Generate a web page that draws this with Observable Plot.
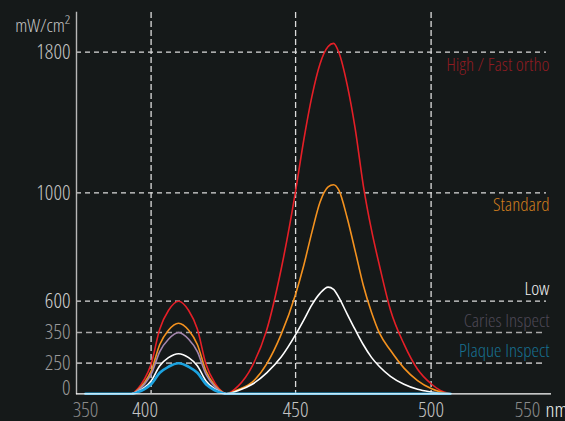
<!DOCTYPE html>
<html><head><meta charset="utf-8">
<script src="https://cdn.jsdelivr.net/npm/d3@7"></script>
<script src="https://cdn.jsdelivr.net/npm/@observablehq/plot@0.6"></script>
<style>
html,body{margin:0;padding:0;background:#151919;}
#chart{width:565px;height:421px;overflow:hidden;}
#chart svg{display:block;font-stretch:75%;font-weight:300;}
</style></head><body><div id="chart"></div>
<script>
// Wavelength grid (nm)
const wavelengths = [350, 385, 390, 395, 400, 403, 406, 409.5, 413, 416, 419, 422, 425, 426,
  430, 435, 440, 445, 450, 453, 456, 459, 462, 464, 466, 469, 472, 475, 478, 481, 485, 490, 495, 500, 505, 510];
// Irradiance (mW/cm²) per mode
const highFast = [0, 0, 43, 121, 242, 378, 526, 600, 526, 378, 242, 91, 11, 0,
  61, 227, 370, 718, 1010, 1299, 1547, 1733, 1832, 1850, 1797, 1617, 1364, 1040, 863, 729, 530, 312, 201, 82, 25, 0];
const standard = [0, 0, 33, 92, 185, 311, 368, 424, 368, 311, 185, 69, 9, 0,
  33, 95, 245, 344, 626, 732, 854, 965, 1034, 1046, 1014, 909, 785, 658, 512, 347, 292, 210, 108, 43, 15, 0];
const low = [0, 0, 19, 52, 105, 229, 268, 281, 268, 229, 105, 39, 5, 0,
  25, 78, 171, 270, 343, 449, 571, 629, 652, 644, 613, 499, 372, 310, 269, 221, 143, 78, 37, 15, 4, 0];
const caries = [0, 0, 28, 79, 158, 288, 328, 350, 328, 288, 158, 59, 7, 0,
  0, 0, 0, 0, 0, 0, 0, 0, 0, 0, 0, 0, 0, 0, 0, 0, 0, 0, 0, 0, 0, 0];
const plaque = [0, 0, 14, 39, 78, 172, 221, 250, 221, 172, 78, 29, 4, 0,
  0, 0, 0, 0, 0, 0, 0, 0, 0, 0, 0, 0, 0, 0, 0, 0, 0, 0, 0, 0, 0, 0];

const seriesNames = ["High / Fast ortho", "Standard", "Low", "Caries Inspect", "Plaque Inspect"];
const seriesLevels = [1800, 1000, 600, 350, 250];
const lineColors = ["#e51f27", "#f4921f", "#ffffff", "#a386ad", "#1ca3e0"];
const labelColors = ["#8d1c22", "#cf7d1e", "#f2f2f2", "#4d4856", "#176f90"];
const yTicks = [0, 250, 350, 600, 1000, 1800];
const xTicks = [350, 400, 450, 500, 550];

const seriesValues = [highFast, standard, low, caries, plaque];
const rows = seriesValues.map((vals, k) => wavelengths.map((w, i) => ({w, v: vals[i], s: seriesNames[k]})));
const labelRows = seriesNames.map((name, i) => ({name, level: seriesLevels[i], color: labelColors[i]}));

const FONT = "'Open Sans', 'Roboto Condensed', sans-serif";
const fmt = d => String(d);
const TICK = 21;

const lineMarks = [0, 1, 3, 2, 4].map(k => Plot.line(rows[k], {
  x: "w", y: "v", stroke: lineColors[k], strokeWidth: k === 4 ? 2.6 : 1.6, curve: "monotone-x"
}));

const chart = Plot.plot({
  width: 565, height: 421,
  marginLeft: 76, marginRight: 14, marginTop: 12, marginBottom: 28,
  style: {background: "#151919", fontFamily: FONT, fontSize: "19px", overflow: "visible"},
  x: {type: "linear", domain: xTicks, range: [85, 150.6, 295.1, 430.6, 527]},
  y: {type: "linear", domain: yTicks, range: [393.3, 362.7, 332, 300.7, 192.3, 51.7]},
  marks: [
    Plot.ruleY([1800, 1000, 600], {stroke: "#dcdcdc", strokeWidth: 1.3, strokeDasharray: "5,4", insetRight: 5}),
    Plot.ruleY([350, 250], {stroke: "#a9a9a9", strokeWidth: 1.7, strokeDasharray: "6,4", insetRight: 5}),
    Plot.ruleX([400, 450, 500], {stroke: "#dcdcdc", strokeWidth: 1.3, strokeDasharray: "6,3"}),
    Plot.frame({anchor: "left", stroke: "#b8b8b8", strokeWidth: 1.4}),
    ...lineMarks,
    Plot.ruleY([0], {stroke: "#ffffff", strokeWidth: 1.3}),
    Plot.axisY(yTicks.filter(t => t > 0), {tickSize: 0, tickPadding: 6, label: null, fontSize: TICK, tickFormat: fmt,
      fill: d => d >= 1000 ? "#c4c4c4" : d === 600 ? "#cfcfcf" : "#9a9a9a"}),
    Plot.axisY([0], {tickSize: 0, tickPadding: 6, label: null, fontSize: TICK, dy: -6, tickFormat: fmt, fill: "#9a9a9a"}),
    Plot.axisX(xTicks.filter(t => t !== 400), {tickSize: 0, tickPadding: 9, label: null, fontSize: TICK, tickFormat: fmt,
      fill: d => (d === 350 || d === 550) ? "#8a8a8a" : "#c4c4c4"}),
    Plot.axisX([400], {tickSize: 0, tickPadding: 9, label: null, fontSize: TICK, dx: -6, tickFormat: fmt, fill: "#c4c4c4"}),
    Plot.text([550], {x: d => d, text: () => "nm", frameAnchor: "bottom", lineAnchor: "top", dy: 9, dx: 18,
      textAnchor: "start", fill: "#f0f0f0", fontSize: TICK}),
    Plot.text(["mW/cm²"], {frameAnchor: "top-left", textAnchor: "end", dx: -6, dy: 6, fill: "#c4c4c4", fontSize: 19}),
    Plot.text(labelRows.filter(d => d.level >= 1000), {y: "level", text: "name", fill: d => d.color,
      frameAnchor: "right", textAnchor: "end", lineAnchor: "top", dx: -2, dy: 5, fontSize: 19}),
    Plot.text(labelRows.filter(d => d.level < 1000), {y: "level", text: "name", fill: d => d.color,
      frameAnchor: "right", textAnchor: "end", lineAnchor: "bottom", dx: -2, dy: -6, fontSize: 19})
  ]
});
document.getElementById("chart").appendChild(chart);
</script>
</body></html>
